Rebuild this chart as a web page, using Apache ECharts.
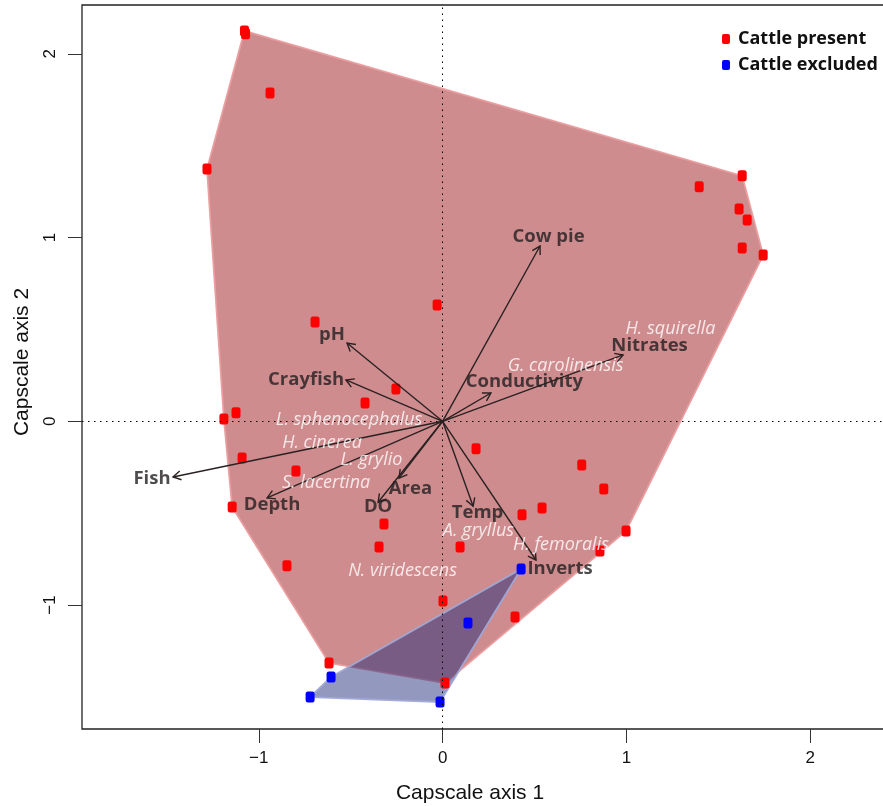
<!DOCTYPE html>
<html>
<head>
<meta charset="utf-8">
<script src="https://cdn.jsdelivr.net/npm/echarts@6/dist/echarts.min.js"></script>
<style>html,body{margin:0;padding:0;background:#fff;}#chart{width:883px;height:806px;}</style>
</head>
<body>
<div id="chart"></div>
<script>
// ---- data ----
const redX = [-1.078,-1.072,-0.939,-1.282,1.396,1.630,1.613,1.657,1.630,1.744,-0.030,-0.694,-0.254,-0.422,-1.124,-1.190,-1.091,0.182,-0.798,0.757,0.877,-1.145,0.541,0.432,-0.319,-0.346,0.095,0.998,0.856,-0.847,0.002,0.394,-0.618,0.013];
const redY = [2.125,2.110,1.787,1.373,1.276,1.336,1.156,1.096,0.943,0.905,0.633,0.540,0.176,0.100,0.046,0.013,-0.200,-0.150,-0.270,-0.238,-0.369,-0.467,-0.472,-0.509,-0.559,-0.684,-0.684,-0.597,-0.706,-0.787,-0.978,-1.065,-1.316,-1.425];
const blueX = [0.427,0.138,-0.607,-0.721,-0.014];
const blueY = [-0.804,-1.098,-1.392,-1.501,-1.528];

const envNames = ['Cow pie','Nitrates','Conductivity','pH','Crayfish','Fish','Depth','Area','DO','Temp','Inverts'];
const envX = [0.530,0.982,0.263,-0.520,-0.526,-1.467,-0.955,-0.237,-0.351,0.166,0.508];
const envY = [0.954,0.361,0.154,0.426,0.225,-0.303,-0.417,-0.309,-0.441,-0.462,-0.755];
const envLabelX = [0.576,1.126,0.445,-0.602,-0.743,-1.581,-0.928,-0.175,-0.351,0.190,0.639];
const envLabelY = [1.006,0.413,0.217,0.469,0.224,-0.312,-0.455,-0.369,-0.466,-0.499,-0.804];

const speciesNames = ['H. squirella','G. carolinensis','L. sphenocephalus','H. cinerea','L. grylio','S. lacertina','A. gryllus','H. femoralis','N. viridescens'];
const spX = [1.240,0.669,-0.509,-0.656,-0.387,-0.634,0.195,0.644,-0.218];
const spY = [0.505,0.301,0.007,-0.118,-0.211,-0.335,-0.597,-0.673,-0.814];

const xTicks = [-1,0,1,2];
const yTicks = [-1,0,1,2];

// ---- helpers ----
function hull(xs, ys){
  const pts = xs.map((x,i)=>[x,ys[i]]).sort((a,b)=>a[0]-b[0]||a[1]-b[1]);
  const cross=(o,a,b)=>(a[0]-o[0])*(b[1]-o[1])-(a[1]-o[1])*(b[0]-o[0]);
  const lo=[],up=[];
  for(const p of pts){while(lo.length>=2&&cross(lo[lo.length-2],lo[lo.length-1],p)<=0)lo.pop();lo.push(p);}
  for(let i=pts.length-1;i>=0;i--){const p=pts[i];while(up.length>=2&&cross(up[up.length-2],up[up.length-1],p)<=0)up.pop();up.push(p);}
  up.pop();lo.pop();return lo.concat(up);
}
const redHull = hull(redX, redY);
const blueHull = hull(blueX, blueY);
const fmt = v => v<0 ? '\u2212'+Math.abs(v) : String(v);

function hullSeries(h, fill, stroke, z){
  return {type:'custom', z:z, silent:true, data:[[0,0]],
    renderItem:(params, api)=>({type:'polygon', shape:{points:h.map(p=>api.coord(p))},
      style:{fill:fill, stroke:stroke, lineWidth:1.8}})};
}

const chart = echarts.init(document.getElementById('chart'), null, {renderer:'canvas'});
const option = {
  animation:false,
  backgroundColor:'#fff',
  grid:{left:82, top:5, width:810, height:724, outerBoundsMode:'none', containLabel:false, show:true, borderColor:'#222', borderWidth:1.3, backgroundColor:'transparent'},
  xAxis:{type:'value', min:-1.962, max:2.445, splitLine:{show:false}, axisLine:{show:false, onZero:false},
    axisTick:{show:true, customValues:xTicks, length:14, lineStyle:{color:'#333', width:1}},
    axisLabel:{customValues:xTicks, formatter:fmt, fontFamily:'Liberation Sans', fontSize:17, color:'#111', margin:21}},
  yAxis:{type:'value', min:-1.675, max:2.266, splitLine:{show:false}, axisLine:{show:false, onZero:false},
    axisTick:{show:true, customValues:yTicks, length:14, lineStyle:{color:'#333', width:1}},
    axisLabel:{customValues:yTicks, formatter:fmt, rotate:90, fontFamily:'Liberation Sans', fontSize:17, color:'#111', margin:23}},
  legend:{orient:'vertical', left:722, top:30, padding:0, itemWidth:8, itemHeight:10, itemGap:8,
    data:[{name:'Cattle present', icon:'roundRect'},{name:'Cattle excluded', icon:'roundRect'}],
    textStyle:{fontFamily:'Open Sans', fontWeight:'bold', fontSize:18, color:'#111', lineHeight:18, padding:[0,0,0,3]}},
  graphic:[
    {type:'text', x:470, y:793, style:{text:'Capscale axis 1', align:'center', verticalAlign:'middle', font:'21px "Liberation Sans"', fill:'#111'}},
    {type:'text', x:22, y:362, rotation:Math.PI/2, style:{text:'Capscale axis 2', align:'center', verticalAlign:'middle', font:'21px "Liberation Sans"', fill:'#111'}}
  ],
  series:[
    hullSeries(redHull, 'rgba(160,26,30,0.5)', 'rgba(234,156,158,0.95)', 1),
    hullSeries(blueHull, 'rgba(28,40,120,0.48)', 'rgba(160,168,214,0.95)', 2),
    {type:'line', data:[], z:3, silent:true,
      markLine:{silent:true, symbol:['none','none'], label:{show:false},
        lineStyle:{type:[1.5,4.5], color:'#000', width:1}, data:[{xAxis:0},{yAxis:0}]}},
    {name:'Cattle present', type:'scatter', z:4, symbol:'roundRect', symbolSize:[9,11],
      itemStyle:{color:'#ff0000', opacity:1}, data:redX.map((x,i)=>[x,redY[i]])},
    {name:'Cattle excluded', type:'scatter', z:4, symbol:'roundRect', symbolSize:[9,11],
      itemStyle:{color:'#0000ff', opacity:1}, data:blueX.map((x,i)=>[x,blueY[i]])},
    {type:'custom', z:5, silent:true, data:envX.map((x,i)=>[x,envY[i]]),
      renderItem:(params, api)=>{
        const o=api.coord([0,0]); const t=api.coord([api.value(0),api.value(1)]);
        const ang=Math.atan2(t[1]-o[1],t[0]-o[0]); const L=9, a=Math.PI/6;
        const p1=[t[0]-L*Math.cos(ang-a), t[1]-L*Math.sin(ang-a)];
        const p2=[t[0]-L*Math.cos(ang+a), t[1]-L*Math.sin(ang+a)];
        const st={stroke:'#2a2222', lineWidth:1.4, fill:null};
        return {type:'group', children:[
          {type:'line', shape:{x1:o[0],y1:o[1],x2:t[0],y2:t[1]}, style:st},
          {type:'polyline', shape:{points:[p1,t,p2]}, style:st}]};
      }},
    {type:'scatter', z:6, silent:true, symbolSize:0, data:spX.map((x,i)=>[x,spY[i],speciesNames[i]]),
      label:{show:true, position:'inside', formatter:p=>p.data[2], fontFamily:'Open Sans', fontStyle:'italic', fontSize:18, color:'#ffffff'}},
    {type:'scatter', z:6, silent:true, symbolSize:0, data:envLabelX.map((x,i)=>[x,envLabelY[i],envNames[i]]),
      label:{show:true, position:'inside', formatter:p=>p.data[2], fontFamily:'Open Sans', fontWeight:'bold', fontSize:18.5, color:'#231f20'}}
  ]
};
chart.setOption(option);
</script>
</body>
</html>
